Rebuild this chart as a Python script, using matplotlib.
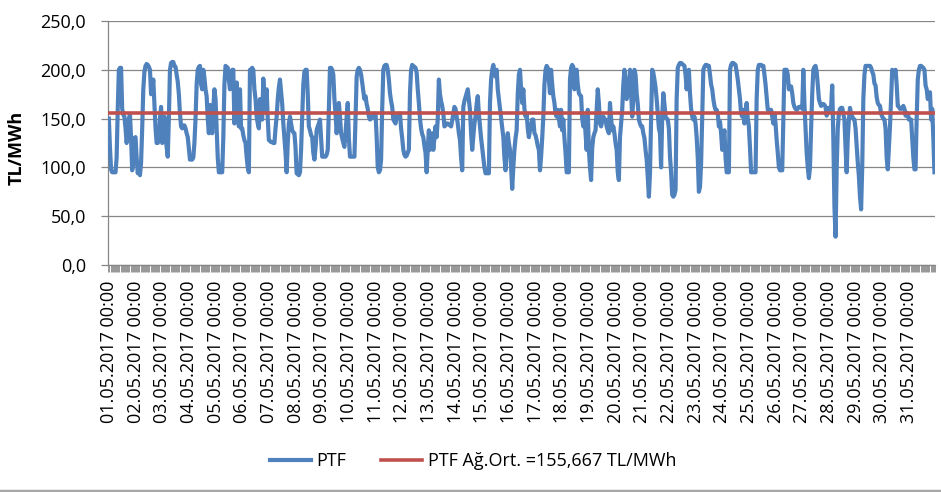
import numpy as np
import matplotlib
matplotlib.use('Agg')
import matplotlib.pyplot as plt
from matplotlib.lines import Line2D

# hourly PTF, May 2017, one row per day (00:00 .. 23:00)
ptf = [
    150, 120, 98, 95, 95, 95, 95, 110, 160, 200, 202, 202, 160, 154, 152, 140, 125, 135, 150, 154, 130, 97, 105, 130,
    131, 110, 94, 100, 92, 105, 140, 180, 198, 204, 206, 205, 203, 200, 175, 180, 190, 165, 140, 125, 125, 128, 150, 162,
    125, 140, 152, 130, 121, 111, 150, 200, 207, 208, 208, 204, 203, 195, 188, 175, 155, 142, 140, 143, 143, 140, 135, 131,
    120, 108, 108, 108, 110, 125, 150, 185, 200, 203, 204, 185, 180, 200, 192, 180, 173, 150, 135, 164, 150, 135, 160, 180,
    170, 140, 110, 95, 95, 95, 95, 130, 185, 204, 203, 202, 190, 180, 195, 200, 200, 145, 165, 187, 160, 142, 180, 140,
    140, 133, 128, 125, 111, 100, 95, 200, 200, 202, 200, 180, 170, 152, 145, 140, 170, 155, 149, 191, 170, 159, 180, 150,
    128, 127, 126, 126, 125, 125, 140, 152, 170, 182, 190, 178, 165, 145, 130, 115, 95, 125, 145, 152, 145, 138, 136, 135,
    120, 94, 93, 92, 95, 118, 150, 185, 198, 200, 200, 175, 142, 138, 133, 131, 115, 108, 120, 138, 142, 145, 149, 130,
    111, 111, 111, 111, 113, 118, 160, 202, 202, 200, 195, 170, 155, 135, 150, 166, 152, 135, 130, 125, 121, 135, 152, 166,
    130, 111, 111, 111, 111, 111, 150, 193, 200, 202, 200, 195, 187, 178, 170, 173, 165, 160, 152, 149, 150, 152, 154, 155,
    155, 131, 100, 95, 97, 108, 160, 200, 204, 205, 205, 200, 190, 176, 168, 162, 149, 147, 145, 152, 153, 155, 155, 140,
    130, 118, 113, 111, 112, 115, 118, 176, 200, 205, 204, 203, 202, 197, 180, 166, 150, 140, 134, 131, 122, 115, 95, 118,
    138, 118, 128, 135, 118, 130, 142, 131, 150, 190, 175, 168, 163, 155, 142, 143, 145, 145, 144, 143, 142, 148, 155, 162,
    160, 152, 145, 135, 128, 110, 97, 162, 168, 172, 176, 180, 170, 159, 135, 118, 131, 145, 152, 165, 173, 155, 142, 130,
    120, 111, 100, 94, 94, 94, 94, 166, 190, 200, 205, 198, 193, 200, 180, 170, 159, 150, 140, 131, 110, 97, 120, 135,
    125, 118, 100, 78, 100, 118, 130, 138, 175, 195, 200, 180, 166, 180, 160, 152, 155, 140, 131, 138, 142, 149, 149, 135,
    133, 128, 122, 118, 97, 111, 130, 152, 185, 200, 204, 202, 190, 176, 200, 185, 173, 166, 155, 152, 159, 150, 142, 159,
    138, 149, 130, 115, 95, 95, 95, 190, 202, 205, 203, 180, 190, 200, 185, 176, 174, 173, 150, 142, 152, 135, 118, 159,
    118, 100, 87, 120, 131, 135, 138, 160, 180, 166, 145, 142, 147, 152, 150, 149, 142, 138, 135, 166, 150, 138, 142, 135,
    125, 118, 95, 87, 131, 145, 159, 185, 200, 190, 170, 175, 180, 200, 175, 152, 170, 200, 195, 176, 165, 149, 145, 142,
    142, 135, 130, 118, 108, 90, 70, 94, 150, 200, 197, 190, 182, 170, 155, 140, 135, 100, 152, 176, 165, 152, 150, 149,
    140, 111, 95, 72, 70, 72, 77, 170, 202, 205, 207, 207, 206, 205, 204, 195, 180, 195, 200, 176, 160, 152, 149, 152,
    145, 131, 110, 75, 80, 104, 150, 200, 203, 205, 205, 204, 204, 195, 185, 180, 170, 163, 159, 159, 155, 142, 147, 135,
    118, 130, 138, 110, 95, 95, 95, 200, 205, 207, 207, 206, 205, 198, 190, 180, 170, 155, 152, 159, 145, 155, 166, 150,
    142, 120, 95, 95, 95, 95, 95, 170, 200, 205, 205, 205, 204, 204, 195, 185, 172, 159, 159, 159, 159, 152, 145, 155,
    145, 128, 115, 100, 97, 97, 97, 150, 200, 200, 200, 195, 180, 181, 183, 176, 166, 162, 160, 159, 160, 162, 162, 162,
    160, 200, 165, 140, 115, 100, 89, 100, 140, 175, 200, 203, 204, 198, 185, 170, 166, 163, 164, 165, 164, 162, 153, 158,
    161, 160, 162, 184, 130, 60, 29, 98, 140, 155, 160, 161, 161, 155, 149, 120, 95, 130, 149, 161, 155, 152, 150, 149,
    140, 122, 105, 91, 70, 57, 100, 170, 195, 204, 204, 204, 204, 204, 202, 198, 195, 186, 184, 172, 166, 164, 163, 155,
    152, 150, 149, 140, 110, 98, 120, 142, 170, 200, 198, 197, 200, 185, 163, 162, 160, 160, 161, 163, 160, 153, 156, 155,
    149, 149, 149, 130, 110, 98, 98, 150, 190, 200, 204, 204, 203, 202, 200, 184, 180, 170, 175, 177, 149, 160, 130, 95,
]
avg_ptf = 155.667
day_labels = ['%02d.05.2017 00:00' % d for d in range(1, 32)]
yticks = [0, 50, 100, 150, 200, 250]
ytick_labels = ['0,0', '50,0', '100,0', '150,0', '200,0', '250,0']

plt.rcParams['font.family'] = ['Open Sans', 'DejaVu Sans']

fig = plt.figure(figsize=(9.41, 4.92), dpi=100)
ax = fig.add_axes([108.3 / 941, 1 - 265 / 492, 826.7 / 941, 244 / 492])

x = np.arange(len(ptf))
ax.plot(x, ptf, color='#4F81BD', lw=3.0, solid_joinstyle='round', zorder=3, label='PTF')
ax.axhline(avg_ptf, color='#C0504D', lw=2.6, zorder=4,
           label='PTF Ağ.Ort. =155,667 TL/MWh')

ax.set_xlim(-0.5, len(ptf) - 0.5)
ax.set_ylim(0, 250)
ax.set_yticks(yticks)
ax.set_yticklabels(ytick_labels, fontsize=13)
ax.set_xticks(x[::24])
ax.set_xticklabels(day_labels, rotation=90, fontsize=13)
ax.set_xticks(np.arange(-0.5, len(ptf), 1), minor=True)
ax.tick_params(axis='x', which='major', length=0, pad=11)
ax.tick_params(axis='x', which='minor', length=5, color='#868686', width=0.6)
ax.tick_params(axis='y', length=5, color='#868686', width=0.9, pad=11)

ax.yaxis.grid(True, color='#868686', lw=0.9)
ax.set_axisbelow(True)
for s in ['top', 'right']:
    ax.spines[s].set_visible(False)
for s in ['left', 'bottom']:
    ax.spines[s].set_color('#868686')
    ax.spines[s].set_linewidth(0.9)

ax.set_ylabel('TL/MWh', fontsize=13, fontweight='bold')
ax.yaxis.set_label_coords(-0.100, 0.48)

fig.legend(loc='center', bbox_to_anchor=(473 / 941, 1 - 461 / 492), ncol=2,
           frameon=False, fontsize=13, handlelength=2.3, handletextpad=0.3,
           columnspacing=1.9)

fig.add_artist(Line2D([0, 1], [1.5 / 492, 1.5 / 492], transform=fig.transFigure,
                      color='#a6a6a6', lw=2.5))

fig.savefig('out.png', dpi=100)
